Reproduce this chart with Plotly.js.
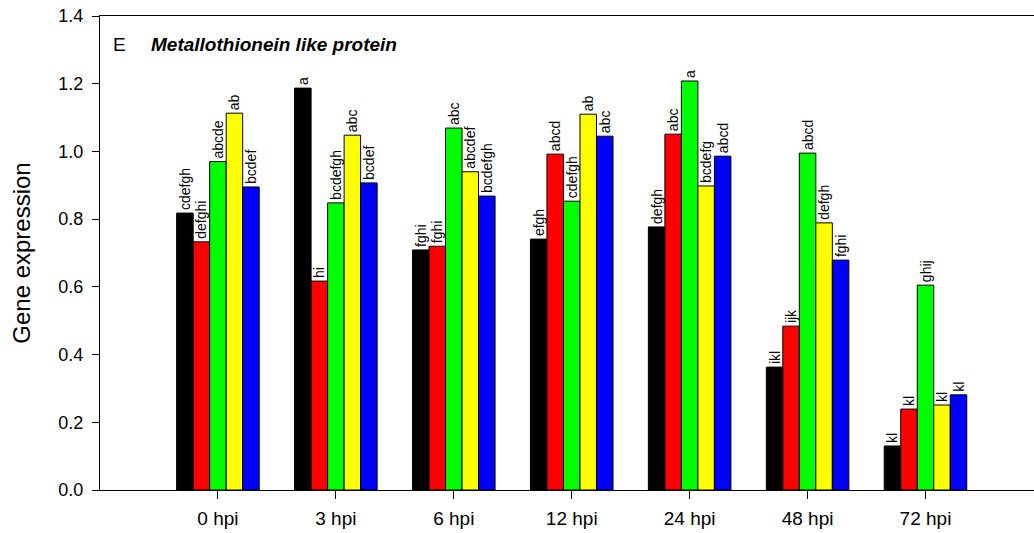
<!DOCTYPE html>
<html>
<head>
<meta charset="utf-8">
<script src="https://cdn.plot.ly/plotly-3.0.1.min.js"></script>
<style>html,body{margin:0;padding:0;background:#fff;}#chart{width:1034px;height:533px;}</style>
</head>
<body>
<div id="chart"></div>
<script>
const categories = ["0 hpi","3 hpi","6 hpi","12 hpi","24 hpi","48 hpi","72 hpi"];
const seriesColors = ["#000000","#ff0000","#00ff00","#ffff00","#0000ff"];
const s1 = [0.818, 1.187, 0.709, 0.741, 0.777, 0.363, 0.130];
const s2 = [0.733, 0.617, 0.720, 0.992, 1.051, 0.484, 0.239];
const s3 = [0.970, 0.848, 1.069, 0.853, 1.208, 0.995, 0.605];
const s4 = [1.113, 1.048, 0.940, 1.110, 0.898, 0.789, 0.251];
const s5 = [0.895, 0.907, 0.868, 1.045, 0.986, 0.679, 0.281];
const l1 = ["cdefgh","a","fghi","efgh","defgh","ikl","kl"];
const l2 = ["defghi","hi","fghi","abcd","abc","ijk","kl"];
const l3 = ["abcde","bcdefgh","abc","cdefgh","a","abcd","ghij"];
const l4 = ["ab","abc","abcdef","ab","bcdefg","defgh","kl"];
const l5 = ["bcdef","bcdef","bcdefgh","abc","abcd","fghi","kl"];
const yTicks = [0,0.2,0.4,0.6,0.8,1.0,1.2,1.4];

const series = [s1,s2,s3,s4,s5];
const labels = [l1,l2,l3,l4,l5];
const xIdx = categories.map((c,i)=>i);
const traces = series.map((s,k)=>({
  type:'bar', x:xIdx, y:s, text:labels[k],
  textposition:'outside', textangle:-90, cliponaxis:false, constraintext:'none',
  textfont:{family:'Liberation Sans, Arial, sans-serif', size:14, color:'#000'},
  marker:{color:seriesColors[k], line:{color:'#000', width:1}},
  hoverinfo:'skip', showlegend:false
}));

const layout = {
  width:1034, height:533,
  margin:{l:100, r:0, t:16, b:43},
  paper_bgcolor:'#fff', plot_bgcolor:'#fff',
  barmode:'group', bargap:0.3, bargroupgap:0,
  font:{family:'Liberation Sans, Arial, sans-serif', color:'#000'},
  xaxis:{
    range:[-1, 6.92], tickmode:'array', tickvals:xIdx, ticktext:categories,
    ticks:'outside', ticklen:8, tickwidth:1, tickcolor:'#000',
    showline:true, linecolor:'#000', linewidth:1, mirror:true,
    showgrid:false, zeroline:false, tickfont:{size:19}, ticklabelstandoff:3
  },
  yaxis:{
    range:[0,1.4], tickmode:'array', tickvals:yTicks,
    ticktext:yTicks.map(v=>v.toFixed(1)),
    ticks:'outside', ticklen:7, tickwidth:1, tickcolor:'#000',
    showline:true, linecolor:'#000', linewidth:1,
    showgrid:false, zeroline:false, tickfont:{size:18}, ticklabelstandoff:5,
    title:{text:'Gene expression', font:{size:24}, standoff:20}
  },
  annotations:[
    {xref:'paper', yref:'paper', x:0.012, y:0.94, xanchor:'left', yanchor:'middle',
     text:'E', showarrow:false, font:{size:19}},
    {xref:'paper', yref:'paper', x:0.052, y:0.94, xanchor:'left', yanchor:'middle',
     text:'<b><i>Metallothionein like protein</i></b>', showarrow:false, font:{size:19}}
  ]
};
Plotly.newPlot('chart', traces, layout, {staticPlot:true, displayModeBar:false});
</script>
</body>
</html>
